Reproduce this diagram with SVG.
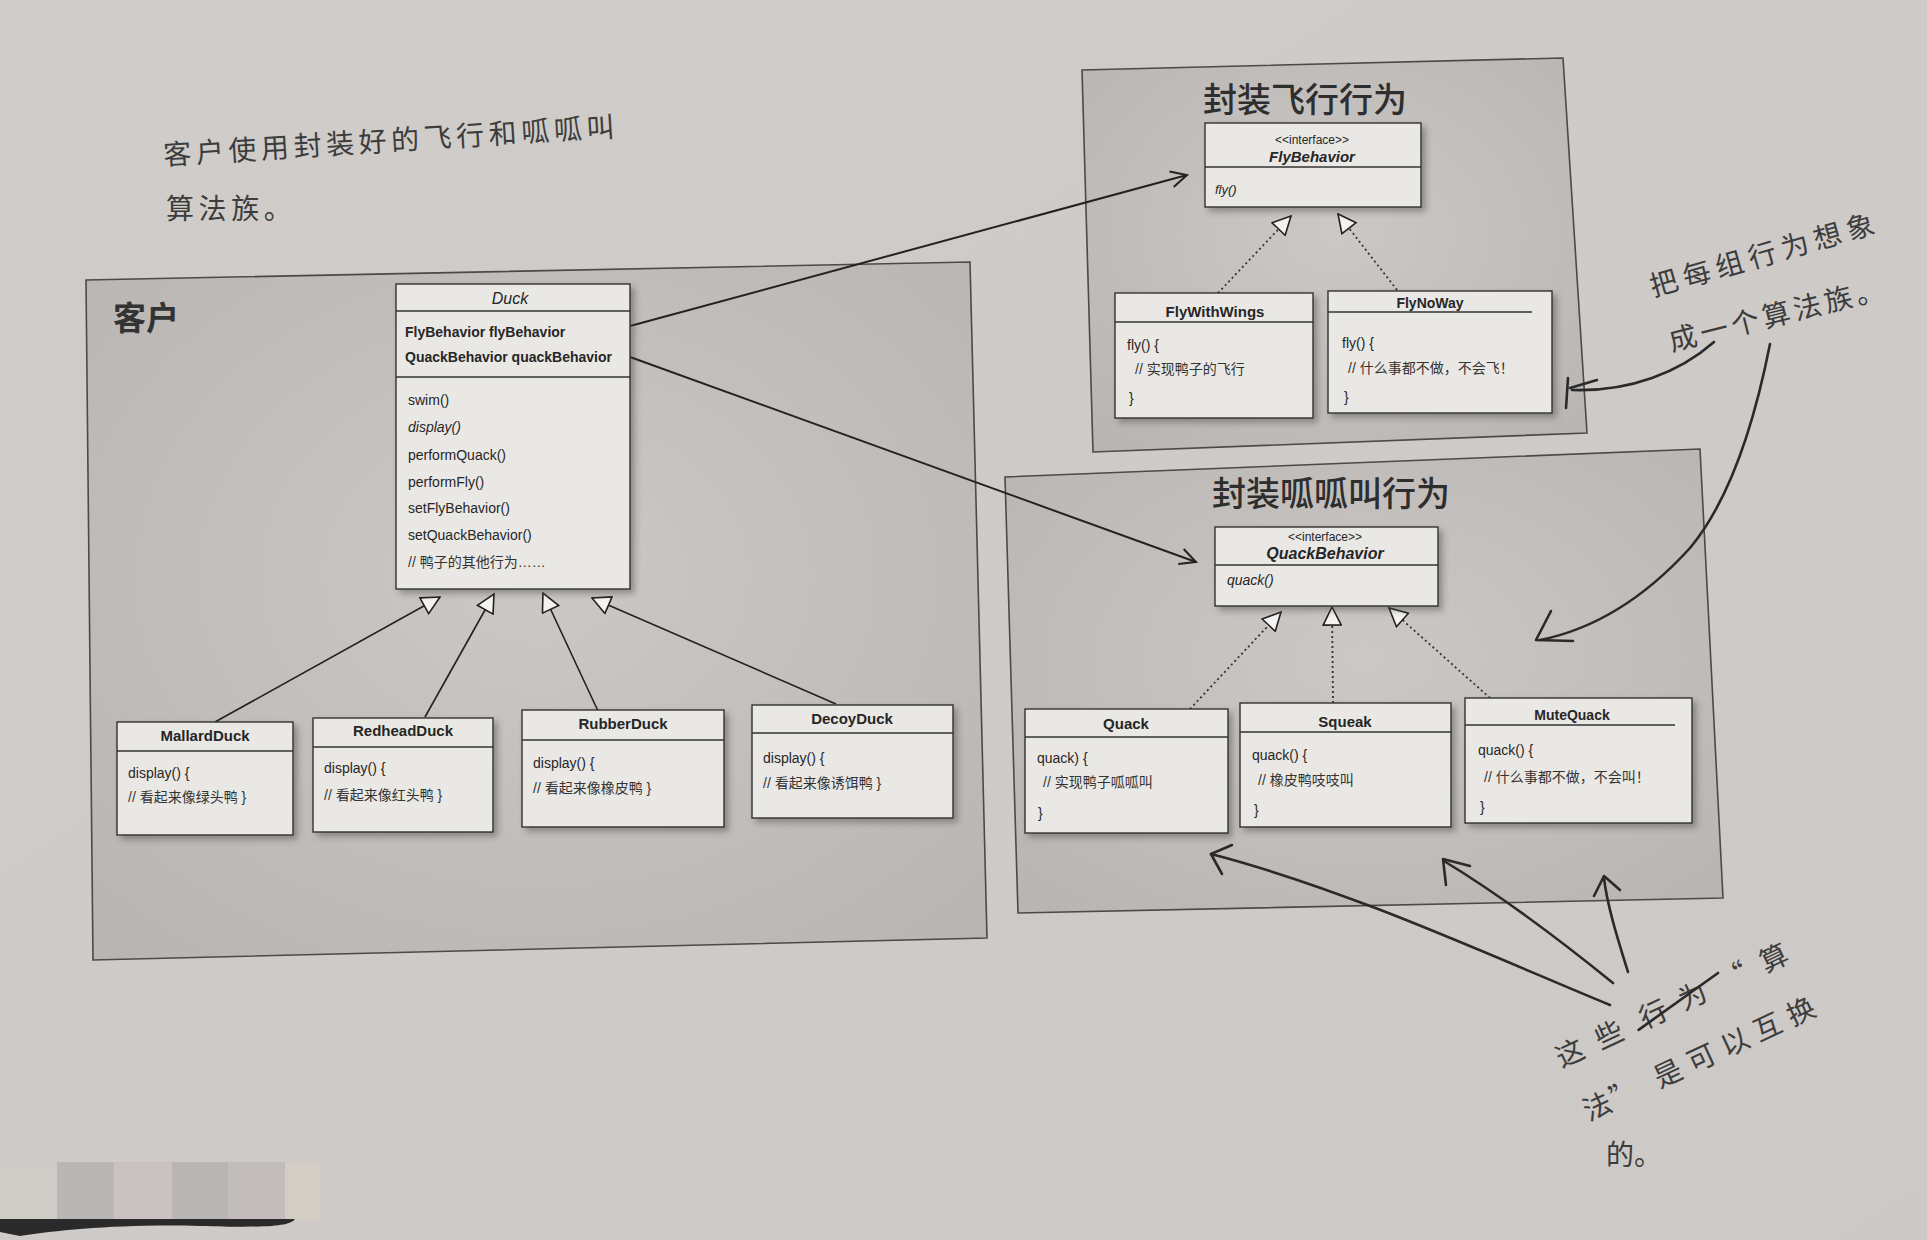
<svg xmlns="http://www.w3.org/2000/svg" width="1927" height="1240" viewBox="0 0 1927 1240">
<defs>
<style>
.t{font-family:"Liberation Sans","Noto Sans CJK SC",sans-serif;fill:#262626}
.box{fill:#eae8e5;stroke:#333;stroke-width:1.4}
.dv{stroke:#333;stroke-width:1.3}
.nm{font-size:15px;font-weight:bold;text-anchor:middle}
.cd{font-size:14px}
.cm{font-size:14px;fill:#333}
.it{font-style:italic}
.pan{fill:url(#pg);stroke:#4a4a4a;stroke-width:1.6}
.ptitle{font-family:"Noto Sans CJK SC",sans-serif;font-size:34px;font-weight:500;fill:#2e2e2e;text-anchor:middle}
.hand{font-family:"Noto Sans CJK SC",sans-serif;font-size:28px;fill:#3c3c3c}
.hc{font-family:"Noto Sans CJK SC",sans-serif;font-size:28px;fill:#3c3c3c;text-anchor:middle}
.inh{stroke:#222;stroke-width:1.6;fill:none}
.real{stroke:#333;stroke-width:1.8;fill:none;stroke-dasharray:2 3}
.assoc{stroke:#222;stroke-width:2;fill:none}
.pen{stroke:#2a2a2a;stroke-width:2.6;fill:none;stroke-linecap:round;stroke-linejoin:round}
</style>
<filter id="sh" x="-10%" y="-10%" width="130%" height="130%">
<feDropShadow dx="4" dy="4" stdDeviation="3" flood-color="#444" flood-opacity="0.45"/>
</filter>
<linearGradient id="bg" x1="0" y1="0" x2="1" y2="1">
<stop offset="0" stop-color="#d0ccc9"/>
<stop offset="1" stop-color="#cdc9c6"/>
</linearGradient>
<radialGradient id="pg" cx="0.5" cy="0.45" r="0.7">
<stop offset="0" stop-color="#ccc8c5"/>
<stop offset="1" stop-color="#b9b5b2"/>
</radialGradient>
<marker id="tri" viewBox="0 0 20 20" refX="19" refY="10" markerWidth="20" markerHeight="20" markerUnits="userSpaceOnUse" orient="auto">
<path d="M1,1 L19,10 L1,19 Z" fill="#f4f3f1" stroke="#222" stroke-width="1.6"/>
</marker>
<marker id="arr" viewBox="0 0 20 20" refX="18" refY="10" markerWidth="20" markerHeight="20" markerUnits="userSpaceOnUse" orient="auto">
<path d="M2,2 L18,10 L2,18" fill="none" stroke="#222" stroke-width="2"/>
</marker>
</defs>

<rect x="0" y="0" width="1927" height="1240" fill="url(#bg)"/>

<!-- panels -->
<g id="panel-client">
<polygon class="pan" points="86,280 970,262 987,938 93,960"/>
<text x="113" y="330" style="font-family:'Noto Sans CJK SC',sans-serif;font-size:33px;font-weight:bold;fill:#333">客户</text>
</g>
<g id="panel-fly">
<polygon class="pan" points="1082,70 1563,58 1587,433 1093,452"/>
<text class="ptitle" x="1305" y="112">封装飞行行为</text>
</g>
<g id="panel-quack">
<polygon class="pan" points="1005,477 1700,449 1723,898 1018,913"/>
<text class="ptitle" x="1331" y="506">封装呱呱叫行为</text>
</g>

<!-- connectors -->
<g id="connectors">
<line class="inh" x1="215" y1="722" x2="440" y2="597" marker-end="url(#tri)"/>
<line class="inh" x1="425" y1="717" x2="494" y2="594" marker-end="url(#tri)"/>
<line class="inh" x1="598" y1="711" x2="543" y2="593" marker-end="url(#tri)"/>
<line class="inh" x1="836" y1="704" x2="592" y2="598" marker-end="url(#tri)"/>
<line class="real" x1="1218" y1="293" x2="1291" y2="216" marker-end="url(#tri)"/>
<line class="real" x1="1397" y1="290" x2="1338" y2="214" marker-end="url(#tri)"/>
<line class="real" x1="1190" y1="709" x2="1281" y2="612" marker-end="url(#tri)"/>
<line class="real" x1="1333" y1="703" x2="1332" y2="607" marker-end="url(#tri)"/>
<line class="real" x1="1490" y1="698" x2="1389" y2="608" marker-end="url(#tri)"/>
<line class="assoc" x1="630" y1="326" x2="1187" y2="175" marker-end="url(#arr)"/>
<line class="assoc" x1="630" y1="357" x2="1196" y2="562" marker-end="url(#arr)"/>
</g>

<!-- Duck -->
<g id="duck">
<rect class="box" x="396" y="284" width="234" height="305" filter="url(#sh)"/>
<line class="dv" x1="396" y1="311" x2="630" y2="311"/>
<line class="dv" x1="396" y1="377" x2="630" y2="377"/>
<text class="t it" x="510" y="304" text-anchor="middle" style="font-size:16px">Duck</text>
<text class="t cd" x="405" y="337" font-weight="bold">FlyBehavior flyBehavior</text>
<text class="t cd" x="405" y="362" font-weight="bold">QuackBehavior quackBehavior</text>
<text class="t cd" x="408" y="405">swim()</text>
<text class="t cd it" x="408" y="432">display()</text>
<text class="t cd" x="408" y="460">performQuack()</text>
<text class="t cd" x="408" y="487">performFly()</text>
<text class="t cd" x="408" y="513">setFlyBehavior()</text>
<text class="t cd" x="408" y="540">setQuackBehavior()</text>
<text class="t cm" x="408" y="567">// 鸭子的其他行为……</text>
</g>

<g id="mallardduck">
<rect class="box" x="117" y="722" width="176" height="113" filter="url(#sh)"/>
<line class="dv" x1="117" y1="751" x2="293" y2="751"/>
<text class="t nm" x="205" y="741">MallardDuck</text>
<text class="t cd" x="128" y="778">display() {</text>
<text class="t cm" x="128" y="802">// 看起来像绿头鸭 }</text>
</g>
<g id="redheadduck">
<rect class="box" x="313" y="718" width="180" height="114" filter="url(#sh)"/>
<line class="dv" x1="313" y1="747" x2="493" y2="747"/>
<text class="t nm" x="403" y="736">RedheadDuck</text>
<text class="t cd" x="324" y="773">display() {</text>
<text class="t cm" x="324" y="800">// 看起来像红头鸭 }</text>
</g>
<g id="rubberduck">
<rect class="box" x="522" y="710" width="202" height="117" filter="url(#sh)"/>
<line class="dv" x1="522" y1="740" x2="724" y2="740"/>
<text class="t nm" x="623" y="729">RubberDuck</text>
<text class="t cd" x="533" y="768">display() {</text>
<text class="t cm" x="533" y="793">// 看起来像橡皮鸭 }</text>
</g>
<g id="decoyduck">
<rect class="box" x="752" y="705" width="201" height="113" filter="url(#sh)"/>
<line class="dv" x1="752" y1="733" x2="953" y2="733"/>
<text class="t nm" x="852" y="724">DecoyDuck</text>
<text class="t cd" x="763" y="763">display() {</text>
<text class="t cm" x="763" y="788">// 看起来像诱饵鸭 }</text>
</g>

<g id="flybehavior">
<rect class="box" x="1205" y="123" width="216" height="84" filter="url(#sh)"/>
<line class="dv" x1="1205" y1="167" x2="1421" y2="167"/>
<text class="t" x="1312" y="144" text-anchor="middle" style="font-size:12px">&lt;&lt;interface&gt;&gt;</text>
<text class="t it" x="1312" y="162" text-anchor="middle" style="font-size:15px;font-weight:bold">FlyBehavior</text>
<text class="t it" x="1215" y="194" style="font-size:13px">fly()</text>
</g>
<g id="flywithwings">
<rect class="box" x="1115" y="293" width="198" height="125" filter="url(#sh)"/>
<line class="dv" x1="1115" y1="322" x2="1313" y2="322"/>
<text class="t nm" x="1215" y="317">FlyWithWings</text>
<text class="t cd" x="1127" y="350">fly() {</text>
<text class="t cm" x="1135" y="374">// 实现鸭子的飞行</text>
<text class="t cd" x="1129" y="403">}</text>
</g>
<g id="flynoway">
<rect class="box" x="1328" y="291" width="224" height="122" filter="url(#sh)"/>
<line class="dv" x1="1328" y1="312" x2="1532" y2="312"/>
<text class="t nm" x="1430" y="308" style="font-size:14px">FlyNoWay</text>
<text class="t cd" x="1342" y="348">fly() {</text>
<text class="t cm" x="1348" y="373">// 什么事都不做，不会飞！</text>
<text class="t cd" x="1344" y="402">}</text>
</g>

<g id="quackbehavior">
<rect class="box" x="1215" y="527" width="223" height="79" filter="url(#sh)"/>
<line class="dv" x1="1215" y1="565" x2="1438" y2="565"/>
<text class="t" x="1325" y="541" text-anchor="middle" style="font-size:12px">&lt;&lt;interface&gt;&gt;</text>
<text class="t it" x="1325" y="559" text-anchor="middle" style="font-size:16px;font-weight:bold">QuackBehavior</text>
<text class="t it" x="1227" y="585" style="font-size:14px">quack()</text>
</g>
<g id="quack">
<rect class="box" x="1025" y="709" width="203" height="124" filter="url(#sh)"/>
<line class="dv" x1="1025" y1="737" x2="1228" y2="737"/>
<text class="t nm" x="1126" y="729">Quack</text>
<text class="t cd" x="1037" y="763">quack) {</text>
<text class="t cm" x="1043" y="787">// 实现鸭子呱呱叫</text>
<text class="t cd" x="1038" y="818">}</text>
</g>
<g id="squeak">
<rect class="box" x="1240" y="703" width="211" height="124" filter="url(#sh)"/>
<line class="dv" x1="1240" y1="732" x2="1451" y2="732"/>
<text class="t nm" x="1345" y="727">Squeak</text>
<text class="t cd" x="1252" y="760">quack() {</text>
<text class="t cm" x="1258" y="785">// 橡皮鸭吱吱叫</text>
<text class="t cd" x="1254" y="815">}</text>
</g>
<g id="mutequack">
<rect class="box" x="1465" y="698" width="227" height="125" filter="url(#sh)"/>
<line class="dv" x1="1465" y1="725" x2="1675" y2="725"/>
<text class="t nm" x="1572" y="720" style="font-size:14px">MuteQuack</text>
<text class="t cd" x="1478" y="755">quack() {</text>
<text class="t cm" x="1484" y="782">// 什么事都不做，不会叫！</text>
<text class="t cd" x="1480" y="812">}</text>
</g>

<!-- handwritten notes -->
<g id="note-client">
<text class="hand" x="164" y="165" letter-spacing="4.6" transform="rotate(-3.6 164 165)">客户使用封装好的飞行和呱呱叫</text>
<text class="hand" x="166" y="219" letter-spacing="4.6">算法族。</text>
</g>
<g id="note-family">
<text class="hand" letter-spacing="6" transform="translate(1665,283) rotate(-16)" x="-15" y="10">把每组行为想象</text>
<text class="hand" letter-spacing="4" transform="translate(1684,338) rotate(-14)" x="-15" y="10">成一个算法族。</text>
<path class="pen" d="M1714,342 C1680,372 1630,392 1572,390"/>
<path class="pen" d="M1597,380 L1570,388 M1568,378 L1566,408"/>
<path class="pen" d="M1770,344 C1755,420 1730,500 1690,548 C1650,592 1600,628 1540,640"/>
<path class="pen" d="M1551,611 L1536,640 L1573,641"/>
</g>
<g id="note-swap">
<g transform="translate(1570,1053) rotate(-25)">
<text class="hc" x="0" y="10">这</text>
<text class="hc" x="43" y="10">些</text>
<text class="hc" x="92" y="10">行</text>
<text class="hc" x="135" y="10">为</text>
<text class="hc" x="180" y="10">“</text>
<text class="hc" x="225" y="10">算</text>
<line class="pen" x1="72" y1="8" x2="168" y2="-10"/>
<text class="hc" x="2" y="70">法</text>
<text class="hc" x="32" y="70">”</text>
<text class="hc" x="80" y="70">是</text>
<text class="hc" x="117" y="70">可</text>
<text class="hc" x="154" y="70">以</text>
<text class="hc" x="190" y="70">互</text>
<text class="hc" x="227" y="70">换</text>
</g>
<text class="hand" x="1606" y="1165">的。</text>
<path class="pen" d="M1610,1005 C1500,960 1350,890 1211,854"/>
<path class="pen" d="M1232,845 L1211,854 L1222,874"/>
<path class="pen" d="M1613,983 C1560,940 1500,895 1444,861"/>
<path class="pen" d="M1446,885 L1443,859 L1470,866"/>
<path class="pen" d="M1628,972 C1618,940 1607,905 1604,878"/>
<path class="pen" d="M1594,896 L1604,876 L1620,890"/>
</g>

<!-- photo patches bottom-left -->
<g id="patches">
<rect x="0" y="1162" width="57" height="58" fill="#cfcbc7"/>
<rect x="57" y="1162" width="57" height="58" fill="#b9b6b3"/>
<rect x="114" y="1162" width="58" height="58" fill="#c9c2c0"/>
<rect x="172" y="1162" width="56" height="58" fill="#b8b5b2"/>
<rect x="228" y="1162" width="57" height="58" fill="#c2bdbc"/>
<rect x="285" y="1162" width="35" height="58" fill="#d3cdc5"/>
<path d="M0,1219 L295,1219 C290,1226 270,1228 200,1226 C120,1224 60,1230 20,1236 L0,1232 Z" fill="#2a2a2a"/>
</g>
</svg>
